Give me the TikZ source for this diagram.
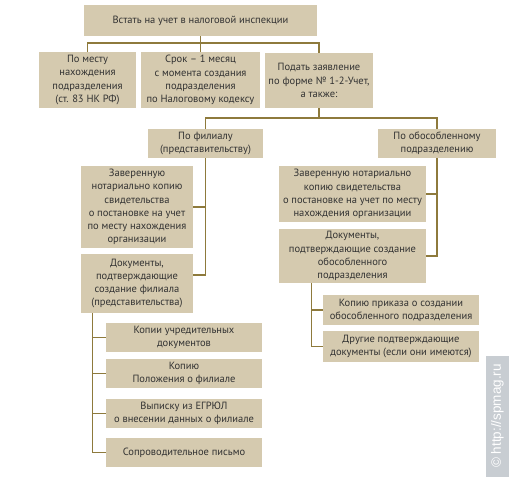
\documentclass[tikz,border=0pt]{standalone}
\usepackage{fontspec}
\setmainfont{PT Sans}
\newfontfamily\wmfont{Liberation Sans}
\definecolor{boxtan}{RGB}{213,202,175}
\definecolor{linegold}{RGB}{142,122,60}
\definecolor{txtgrey}{RGB}{50,50,50}
\definecolor{wmgrey}{RGB}{200,205,210}
\tikzset{
   box/.style={fill=boxtan, text=txtgrey, align=center, inner sep=0pt,
      font=\fontsize{10.5}{13.2}\selectfont},
   sz/.style 2 args={minimum width=#1pt, minimum height=#2pt},
   link/.style={draw=linegold, line width=1.2pt}
}
\begin{document}
\begin{tikzpicture}[x=1pt, y=-1pt]
   \useasboundingbox (0,0) rectangle (512,480);

   \node[box, sz={233}{31}] (top) at (200.5,20.5) {Встать на учет в налоговой инспекции};
   \node[box, sz={97}{56}] (mesto) at (87.5,80) {По месту\\нахождения\\подразделения\\(ст. 83 НК РФ)};
   \node[box, sz={119}{56}] (srok) at (200.5,80) {Срок – 1 месяц\\с момента создания\\подразделения\\по Налоговому кодексу};
   \node[box, sz={108}{55}] (podat) at (319,80.5) {Подать заявление\\по форме № 1-2-Учет,\\а также:};

   \node[box, sz={115}{29}] (filial) at (205.5,143.5) {По филиалу\\(представительству)};
   \node[box, sz={118}{29}] (obos) at (437,143.5) {По обособленному\\подразделению};

   \node[box, sz={112}{82}] (fcopy) at (137,207) {Заверенную\\нотариально копию\\свидетельства\\о постановке на учет\\по месту нахождения\\организации};
   \node[box, sz={112}{59}] (fdocs) at (137,283.5) {Документы,\\подтверждающие\\создание филиала\\(представительства)};
   \node[box, sz={156}{29}] (ucr) at (184,337.5) {Копии учредительных\\документов};
   \node[box, sz={156}{29}] (polozh) at (184,373.5) {Копию\\Положения о филиале};
   \node[box, sz={156}{29}] (egrul) at (184,413.5) {Выписку из ЕГРЮЛ\\о внесении данных о филиале};
   \node[box, sz={156}{29}] (pismo) at (184,452.5) {Сопроводительное письмо};

   \node[box, sz={147}{56}] (ocopy) at (352.5,194) {Заверенную нотариально\\копию свидетельства\\о постановке на учет по месту\\нахождения организации};
   \node[box, sz={147}{54}] (odocs) at (352.5,256) {Документы,\\подтверждающие создание\\обособленного\\подразделения};
   \node[box, sz={156}{30}] (prikaz) at (401,310) {Копию приказа о создании\\обособленного подразделения};
   \node[box, sz={156}{31}] (drugie) at (401,346.5) {Другие подтверждающие\\документы (если они имеются)};

   \coordinate (bus1) at (200.5,43);
   \coordinate (bus2) at (319,118);
   \draw[link] (top.south) -- (srok.north);
   \draw[link] (mesto.north) |- (podat.north |- bus1) -- (podat.north);
   \draw[link] (podat.south) -- (bus2);
   \draw[link] (filial.north) |- (obos.north |- bus2) -- (obos.north);

   \draw[link] (fcopy.east) -| (filial.south);
   \draw[link] (filial.south) |- ([yshift=8.5pt]fdocs.east);
   \foreach \n in {ucr,polozh,egrul,pismo}
      \draw[link] ([xshift=12pt]fdocs.south west) |- (\n.west);

   \draw[link] (ocopy.east) -| (obos.south);
   \draw[link] (obos.south) |- (odocs.east);
   \foreach \n in {prikaz,drugie}
      \draw[link] ([xshift=33pt]odocs.south west) |- (\n.west);

   \fill[wmgrey] (486,356) rectangle (509,477);
   \node[rotate=90, text=white, font=\wmfont\fontsize{13.5}{13.5}\selectfont] (wm) at (497.5,416) {© http://spmag.ru};
\end{tikzpicture}
\end{document}
